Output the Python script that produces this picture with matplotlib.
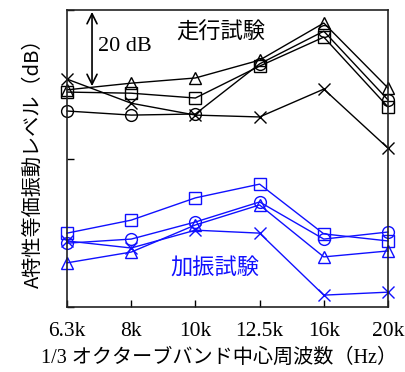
import numpy as np
import matplotlib.pyplot as plt

plt.rcParams['font.family'] = ['Liberation Serif', 'Noto Sans CJK JP']

# 1/3オクターブバンド中心周波数
bands = ['6.3k', '8k', '10k', '12.5k', '16k', '20k']

# 走行試験 (dB)
run_x   = [61.4, 54.9, 51.7, 51.2, 58.7, 42.8]
run_tri = [58.5, 60.3, 61.7, 66.5, 76.5, 59.0]
run_sq  = [57.9, 57.6, 56.3, 64.9, 72.7, 53.9]
run_ci  = [52.8, 51.7, 52.0, 65.5, 74.3, 55.8]

# 加振試験 (dB)
vib_sq  = [19.9, 23.4, 29.4, 33.1, 19.7, 17.8]
vib_ci  = [17.2, 18.3, 22.9, 28.3, 18.3, 20.2]
vib_x   = [17.8, 15.9, 20.7, 19.9, 3.2, 4.0]
vib_tri = [11.9, 14.8, 22.1, 27.5, 13.5, 15.1]

x = np.arange(len(bands))
blue = '#1010ff'

fig = plt.figure(figsize=(4.05, 3.72), dpi=100)
ax = fig.add_axes([0.1654, 0.1747, 0.7926, 0.7983])

kw = dict(lw=1.0, ms=8.5, mew=1.0, fillstyle='none')
for ys, m in [(run_x, 'x'), (run_tri, '^'), (run_sq, 's'), (run_ci, 'o')]:
    ax.plot(x, ys, marker=m, color='black', clip_on=False, **kw)
for ys, m in [(vib_sq, 's'), (vib_ci, 'o'), (vib_x, 'x'), (vib_tri, '^')]:
    ax.plot(x, ys, marker=m, color=blue, clip_on=False, **kw)

ax.set_xlim(0, 5)
ax.set_ylim(0, 80)
ax.set_xticks(x)
ax.set_xticklabels(bands, fontsize=15.5)
ax.set_yticks([0, 40, 80])
ax.set_yticklabels([])
ax.tick_params(direction='in', length=5, width=1.0, top=False, right=False, pad=11)
for s in ax.spines.values():
    s.set_linewidth(1.2)
    s.set_color('#222222')

# 20 dB スケール矢印
ax.annotate('', xy=(0.39, 79.5), xytext=(0.39, 59.5),
            arrowprops=dict(arrowstyle='<->', lw=1.2, color='black',
                            mutation_scale=18, shrinkA=0, shrinkB=0))
ax.text(0.48, 70.3, '20 dB', fontsize=16, va='center', ha='left')

ax.text(2.4, 74.0, '走行試験', fontsize=16, ha='center', va='center',
        family='Noto Sans CJK JP')
ax.text(2.3, 10.5, '加振試験', fontsize=16, ha='center', va='center',
        color=blue, family='Noto Sans CJK JP')

ax.set_xlabel('1/3 オクターブバンド中心周波数（Hz）', fontsize=14.5)
ax.xaxis.set_label_coords(0.475, -0.14)
ax.set_ylabel('A特性等価振動レベル（dB）', fontsize=14.5, labelpad=6,
              family=['Noto Sans CJK JP', 'DejaVu Sans'])

fig.savefig('out.png', dpi=100)
